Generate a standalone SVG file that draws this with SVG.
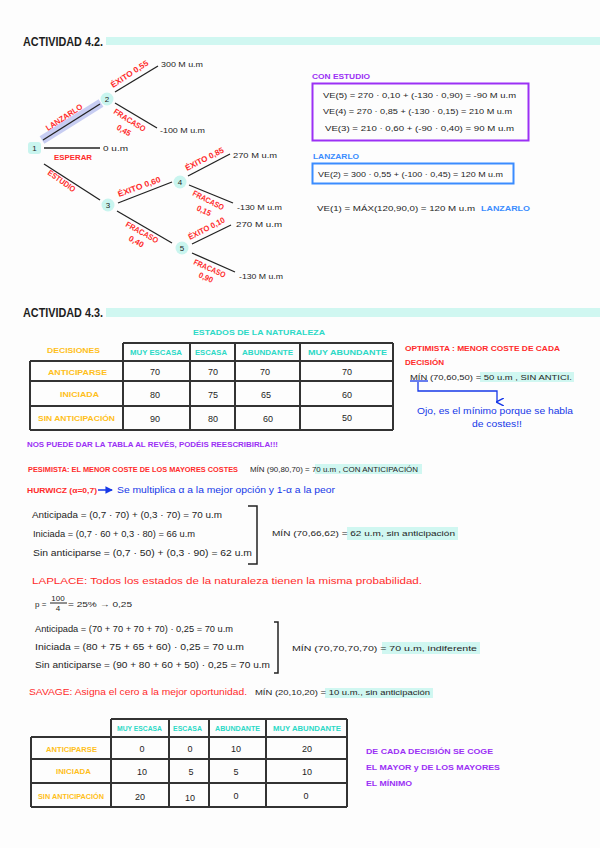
<svg xmlns="http://www.w3.org/2000/svg" width="600" height="848" viewBox="0 0 600 848">
<defs>
<style>
text{font-family:"Liberation Sans",Arial,sans-serif;fill:#222;}
.t{font-size:12px;font-weight:bold;fill:#1e1e1e;}
.r{font-size:8px;font-weight:bold;fill:#ff2b2b;}
.rl{font-size:9px;fill:#ff2b2b;}
.k{font-size:9px;fill:#1e1e1e;}
.ks{font-size:8px;fill:#1e1e1e;}
.p{font-size:8px;font-weight:bold;fill:#9b30f5;}
.b{font-size:8px;font-weight:bold;fill:#3a8cff;}
.bb{font-size:9px;fill:#1638e8;}
.c{font-size:7.5px;font-weight:bold;fill:#2bd9c6;}
.y{font-size:7.5px;font-weight:bold;fill:#ffbf1a;}
.v{font-size:9px;fill:#1e1e1e;text-anchor:middle;}
.m{text-anchor:middle;}
.hl{fill:#d0f7f1;}
.ln{stroke:#222;stroke-width:1.3;fill:none;}
.tb{stroke:#333;stroke-width:2;fill:none;}
.node{fill:#c9f5ef;}
</style>
<marker id="ah" viewBox="0 0 8 8" refX="4" refY="7" markerWidth="6" markerHeight="6" orient="auto">
<path d="M0,0 L4,8 L8,0" fill="none" stroke="#1638e8" stroke-width="1.5"/>
</marker>
<marker id="ar" viewBox="0 0 8 8" refX="7" refY="4" markerWidth="5" markerHeight="5" orient="auto">
<path d="M0,0 L8,4 L0,8 z" fill="#1638e8"/>
</marker>
</defs>
<rect width="600" height="848" fill="#fdfdfd"/>

<!-- Actividad 4.2 -->
<g id="title42">
<rect class="hl" x="106" y="37" width="494" height="8"/>
<text class="t" x="23" y="46" textLength="80" lengthAdjust="spacingAndGlyphs">ACTIVIDAD 4.2.</text>
</g>

<g id="connectors">
<line x1="42" y1="140" x2="101" y2="103" stroke="#c7cdf2" stroke-width="9"/>
<line class="ln" x1="43" y1="140" x2="100" y2="104"/>
<line class="ln" x1="44" y1="148" x2="100" y2="148"/>
<line class="ln" x1="44" y1="164" x2="100" y2="200"/>
<line class="ln" x1="115" y1="92" x2="158" y2="66"/>
<line class="ln" x1="115" y1="103" x2="157" y2="128"/>
<line class="ln" x1="118" y1="203" x2="172" y2="182"/>
<line class="ln" x1="117" y1="211" x2="172" y2="243"/>
<line class="ln" x1="188" y1="176" x2="230" y2="154"/>
<line class="ln" x1="189" y1="185" x2="233" y2="203"/>
<line class="ln" x1="192" y1="244" x2="231" y2="225"/>
<line class="ln" x1="192" y1="253" x2="235" y2="272"/>
<text class="r" transform="translate(48,131) rotate(-33)" textLength="42" lengthAdjust="spacingAndGlyphs">LANZARLO</text>
<text class="r" x="54" y="160" textLength="38" lengthAdjust="spacingAndGlyphs">ESPERAR</text>
<text class="r" transform="translate(47,174) rotate(35)" textLength="32" lengthAdjust="spacingAndGlyphs">ESTUDIO</text>
<text class="r" transform="translate(113,88) rotate(-33)" textLength="43" lengthAdjust="spacingAndGlyphs">ÉXITO 0,55</text>
<text class="r" transform="translate(113,113) rotate(32)" textLength="36" lengthAdjust="spacingAndGlyphs">FRACASO</text>
<text class="r" transform="translate(116,129) rotate(30)" textLength="15" lengthAdjust="spacingAndGlyphs">0,45</text>
<text class="r" transform="translate(119,197) rotate(-20)" textLength="45" lengthAdjust="spacingAndGlyphs">ÉXITO 0,60</text>
<text class="r" transform="translate(125,226) rotate(29)" textLength="36" lengthAdjust="spacingAndGlyphs">FRACASO</text>
<text class="r" transform="translate(128,240) rotate(29)" textLength="16" lengthAdjust="spacingAndGlyphs">0,40</text>
<text class="r" transform="translate(187,171) rotate(-27)" textLength="42" lengthAdjust="spacingAndGlyphs">ÉXITO 0,85</text>
<text class="r" transform="translate(192,195) rotate(27)" textLength="34" lengthAdjust="spacingAndGlyphs">FRACASO</text>
<text class="r" transform="translate(196,210) rotate(25)" textLength="15" lengthAdjust="spacingAndGlyphs">0,15</text>
<text class="r" transform="translate(190,240) rotate(-27)" textLength="40" lengthAdjust="spacingAndGlyphs">ÉXITO 0,10</text>
<text class="r" transform="translate(193,264) rotate(24)" textLength="34" lengthAdjust="spacingAndGlyphs">FRACASO</text>
<text class="r" transform="translate(198,277) rotate(24)" textLength="15" lengthAdjust="spacingAndGlyphs">0,90</text>
</g>

<g id="n1"><rect class="node" x="28" y="142" width="13" height="12" rx="3"/><text class="ks m" x="34.5" y="151">1</text></g>
<g id="n2"><circle class="node" cx="107" cy="99" r="6.5"/><text class="ks m" x="107" y="102">2</text></g>
<g id="n3"><circle class="node" cx="108" cy="205" r="6.5"/><text class="ks m" x="108" y="208">3</text></g>
<g id="n4"><circle class="node" cx="180" cy="182" r="6.5"/><text class="ks m" x="180" y="185">4</text></g>
<g id="n5"><circle class="node" cx="182" cy="248" r="6.5"/><text class="ks m" x="182" y="251">5</text></g>

<g id="outcomes">
<text class="ks" x="161" y="67" textLength="42" lengthAdjust="spacingAndGlyphs">300 M u.m</text>
<text class="ks" x="160" y="133" textLength="45" lengthAdjust="spacingAndGlyphs">-100 M u.m</text>
<text class="ks" x="103" y="151" textLength="25" lengthAdjust="spacingAndGlyphs">0 u.m</text>
<text class="ks" x="233" y="158" textLength="44" lengthAdjust="spacingAndGlyphs">270 M u.m</text>
<text class="ks" x="237" y="210" textLength="45" lengthAdjust="spacingAndGlyphs">-130 M u.m</text>
<text class="ks" x="236" y="227" textLength="46" lengthAdjust="spacingAndGlyphs">270 M u.m</text>
<text class="ks" x="239" y="279" textLength="44" lengthAdjust="spacingAndGlyphs">-130 M u.m</text>
</g>

<g id="con-estudio">
<text class="p" x="312" y="79" textLength="58" lengthAdjust="spacingAndGlyphs">CON ESTUDIO</text>
<rect x="312.5" y="83.5" width="216" height="57" fill="none" stroke="#9b30f5" stroke-width="2"/>
<text class="ks" x="323" y="98" textLength="193" lengthAdjust="spacingAndGlyphs">VE(5) = 270 · 0,10 + (-130 · 0,90) = -90 M u.m</text>
<text class="ks" x="323" y="114" textLength="189" lengthAdjust="spacingAndGlyphs">VE(4) = 270 · 0,85 + (-130 · 0,15) = 210 M u.m</text>
<text class="ks" x="325" y="131" textLength="189" lengthAdjust="spacingAndGlyphs">VE(3) = 210 · 0,60 + (-90 · 0,40) = 90 M u.m</text>
</g>
<g id="lanzarlo-box">
<text class="b" x="313" y="159" textLength="46" lengthAdjust="spacingAndGlyphs">LANZARLO</text>
<rect x="312.5" y="163.5" width="201" height="20" fill="none" stroke="#3a8cff" stroke-width="2"/>
<text class="ks" x="318" y="177" textLength="185" lengthAdjust="spacingAndGlyphs">VE(2) = 300 · 0,55 + (-100 · 0,45) = 120 M u.m</text>
</g>
<g id="ve1">
<text class="ks" x="317" y="211" textLength="158" lengthAdjust="spacingAndGlyphs">VE(1) = MÁX(120,90,0) = 120 M u.m</text>
<text class="b" x="481" y="211" textLength="49" lengthAdjust="spacingAndGlyphs">LANZARLO</text>
</g>

<!-- Actividad 4.3 -->
<g id="title43">
<rect class="hl" x="106" y="308" width="494" height="9"/>
<text class="t" x="23" y="317" textLength="80" lengthAdjust="spacingAndGlyphs">ACTIVIDAD 4.3.</text>
</g>

<g id="table1">
<text class="c" x="193" y="335" textLength="132" lengthAdjust="spacingAndGlyphs">ESTADOS DE LA NATURALEZA</text>
<text class="y" x="47" y="353" textLength="53" lengthAdjust="spacingAndGlyphs">DECISIONES</text>
<path class="tb" d="M123,343 H393 M123,343 V430 M190,343 V430 M235,343 V430 M300,343 V430 M393,343 V430 M30,361 H393 M30,381 H393 M30,406 H393 M30,430 H393 M30,361 V430"/>
<text class="c" x="130" y="355" textLength="52" lengthAdjust="spacingAndGlyphs">MUY ESCASA</text>
<text class="c" x="195" y="355" textLength="32" lengthAdjust="spacingAndGlyphs">ESCASA</text>
<text class="c" x="242" y="355" textLength="51" lengthAdjust="spacingAndGlyphs">ABUNDANTE</text>
<text class="c" x="308" y="355" textLength="79" lengthAdjust="spacingAndGlyphs">MUY ABUNDANTE</text>
<text class="y" x="48" y="375" textLength="59" lengthAdjust="spacingAndGlyphs">ANTICIPARSE</text>
<text class="y" x="60" y="397" textLength="39" lengthAdjust="spacingAndGlyphs">INICIADA</text>
<text class="y" x="38" y="421" textLength="77" lengthAdjust="spacingAndGlyphs">SIN ANTICIPACIÓN</text>
<text class="v" x="155" y="375">70</text><text class="v" x="213" y="375">70</text><text class="v" x="265" y="375">70</text><text class="v" x="347" y="375">70</text>
<text class="v" x="155" y="398">80</text><text class="v" x="213" y="398">75</text><text class="v" x="266" y="398">65</text><text class="v" x="347" y="398">60</text>
<text class="v" x="155" y="422">90</text><text class="v" x="213" y="422">80</text><text class="v" x="268" y="422">60</text><text class="v" x="347" y="421">50</text>
</g>

<g id="optimista">
<text class="r" x="405" y="351" textLength="155" lengthAdjust="spacingAndGlyphs">OPTIMISTA : MENOR COSTE DE CADA</text>
<text class="r" x="405" y="365" textLength="39" lengthAdjust="spacingAndGlyphs">DECISIÓN</text>
<rect class="hl" x="480" y="372" width="94" height="10"/>
<text class="ks" x="410" y="380" textLength="162" lengthAdjust="spacingAndGlyphs">MÍN (70,60,50) = 50 u.m , SIN ANTICI.</text>
<line x1="410" y1="381" x2="428" y2="381" stroke="#1638e8" stroke-width="1.3"/>
<path d="M418,382 V391 H497 V402" fill="none" stroke="#1638e8" stroke-width="1.3" marker-end="url(#ah)"/>
<text class="bb" x="417" y="414" textLength="156" lengthAdjust="spacingAndGlyphs">Ojo, es el mínimo porque se habla</text>
<text class="bb" x="472" y="427" textLength="50" lengthAdjust="spacingAndGlyphs">de costes!!</text>
</g>

<g id="notes">
<text class="p" x="27" y="447" textLength="251" lengthAdjust="spacingAndGlyphs">NOS PUEDE DAR LA TABLA AL REVÉS, PODÉIS REESCRIBIRLA!!!</text>
<text class="r" x="28" y="472" textLength="210" lengthAdjust="spacingAndGlyphs">PESIMISTA: EL MENOR COSTE DE LOS MAYORES COSTES</text>
<rect class="hl" x="315" y="464" width="107" height="10"/>
<text class="ks" x="250" y="472" textLength="168" lengthAdjust="spacingAndGlyphs">MÍN (90,80,70) = 70 u.m , CON ANTICIPACIÓN</text>
<text class="r" x="27" y="493" textLength="70" lengthAdjust="spacingAndGlyphs">HURWICZ (α=0,7)</text>
<line x1="98" y1="490" x2="112" y2="490" stroke="#1638e8" stroke-width="1.5" marker-end="url(#ar)"/>
<text class="bb" x="117" y="493" textLength="218" lengthAdjust="spacingAndGlyphs">Se multiplica α a la mejor opción y 1-α a la peor</text>
</g>

<g id="hurwicz">
<text class="k" x="32" y="518" textLength="190" lengthAdjust="spacingAndGlyphs">Anticipada = (0,7 · 70) + (0,3 · 70) = 70 u.m</text>
<text class="k" x="33" y="537" textLength="162" lengthAdjust="spacingAndGlyphs">Iniciada = (0,7 · 60 + 0,3 · 80) = 66 u.m</text>
<text class="k" x="33" y="556" textLength="219" lengthAdjust="spacingAndGlyphs">Sin anticiparse = (0,7 · 50) + (0,3 · 90) = 62 u.m</text>
<path d="M248,506 H257 V564 H248" fill="none" stroke="#222" stroke-width="1.5"/>
<rect class="hl" x="347" y="527" width="111" height="13"/>
<text class="ks" x="272" y="536" textLength="183" lengthAdjust="spacingAndGlyphs">MÍN (70,66,62) = 62 u.m, sin anticipación</text>
</g>

<g id="laplace">
<text class="rl" x="32" y="584" textLength="390" lengthAdjust="spacingAndGlyphs">LAPLACE: Todos los estados de la naturaleza tienen la misma probabilidad.</text>
<text class="ks" x="35" y="607">p =</text>
<text class="ks m" x="58" y="601" font-size="7">100</text>
<line x1="50" y1="603" x2="67" y2="603" stroke="#222" stroke-width="1"/>
<text class="ks m" x="58" y="611" font-size="7">4</text>
<text class="ks" x="68" y="607" textLength="64" lengthAdjust="spacingAndGlyphs">= 25% → 0,25</text>
<text class="k" x="35" y="632" textLength="198" lengthAdjust="spacingAndGlyphs">Anticipada = (70 + 70 + 70 + 70) · 0,25 = 70 u.m</text>
<text class="k" x="35" y="650" textLength="209" lengthAdjust="spacingAndGlyphs">Iniciada = (80 + 75 + 65 + 60) · 0,25 = 70 u.m</text>
<text class="k" x="35" y="668" textLength="235" lengthAdjust="spacingAndGlyphs">Sin anticiparse = (90 + 80 + 60 + 50) · 0,25 = 70 u.m</text>
<path d="M274,622 H278 V673 H274" fill="none" stroke="#222" stroke-width="1.5"/>
<rect class="hl" x="382" y="642" width="98" height="12"/>
<text class="ks" x="292" y="651" textLength="185" lengthAdjust="spacingAndGlyphs">MÍN (70,70,70,70) = 70 u.m, indiferente</text>
</g>

<g id="savage">
<text class="rl" x="29" y="695" textLength="218" lengthAdjust="spacingAndGlyphs">SAVAGE: Asigna el cero a la mejor oportunidad.</text>
<rect class="hl" x="325" y="688" width="108" height="10"/>
<text class="ks" x="255" y="695" textLength="175" lengthAdjust="spacingAndGlyphs">MÍN (20,10,20) = 10 u.m., sin anticipación</text>
</g>

<g id="table2">
<path class="tb" d="M111,719 H347 M111,719 V807 M169,719 V807 M209,719 V807 M266,719 V807 M347,719 V807 M31,737 H347 M31,759 H347 M31,783 H347 M31,807 H347 M31,737 V807"/>
<text class="c" x="117" y="731" textLength="45" lengthAdjust="spacingAndGlyphs">MUY ESCASA</text>
<text class="c" x="173" y="731" textLength="29" lengthAdjust="spacingAndGlyphs">ESCASA</text>
<text class="c" x="215" y="731" textLength="45" lengthAdjust="spacingAndGlyphs">ABUNDANTE</text>
<text class="c" x="273" y="731" textLength="68" lengthAdjust="spacingAndGlyphs">MUY ABUNDANTE</text>
<text class="y" x="46" y="752" textLength="51" lengthAdjust="spacingAndGlyphs">ANTICIPARSE</text>
<text class="y" x="56" y="774" textLength="35" lengthAdjust="spacingAndGlyphs">INICIADA</text>
<text class="y" x="38" y="799" textLength="66" lengthAdjust="spacingAndGlyphs">SIN ANTICIPACIÓN</text>
<text class="v" x="142" y="752">0</text><text class="v" x="190" y="752">0</text><text class="v" x="236" y="752">10</text><text class="v" x="307" y="752">20</text>
<text class="v" x="142" y="775">10</text><text class="v" x="191" y="775">5</text><text class="v" x="236" y="775">5</text><text class="v" x="307" y="775">10</text>
<text class="v" x="140" y="800">20</text><text class="v" x="190" y="801">10</text><text class="v" x="236" y="799">0</text><text class="v" x="306" y="799">0</text>
</g>

<g id="savage-note">
<text class="p" x="366" y="754" textLength="127" lengthAdjust="spacingAndGlyphs">DE CADA DECISIÓN SE COGE</text>
<text class="p" x="366" y="770" textLength="134" lengthAdjust="spacingAndGlyphs">EL MAYOR y DE LOS MAYORES</text>
<text class="p" x="366" y="786" textLength="46" lengthAdjust="spacingAndGlyphs">EL MÍNIMO</text>
</g>
</svg>
